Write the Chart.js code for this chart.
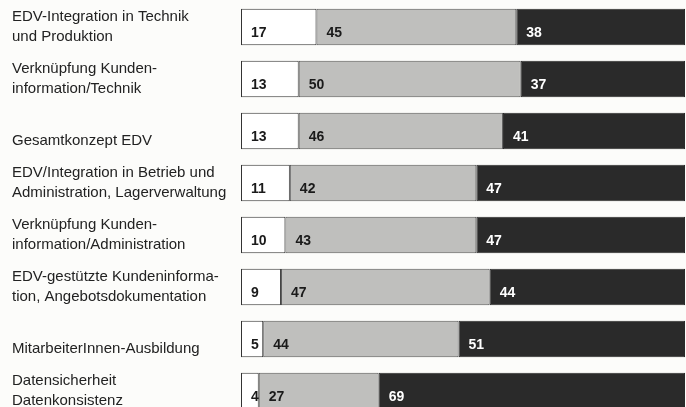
<!DOCTYPE html>
<html>
<head>
<meta charset="utf-8">
<script src="https://cdn.jsdelivr.net/npm/chart.js@4"></script>
<style>
  html, body { margin: 0; padding: 0; background: #fcfcfa; overflow: hidden; }
  #wrap { width: 686px; height: 418px; }
</style>
</head>
<body>
<div id="wrap"><canvas id="myChart"></canvas></div>
<script>
const labels = [
  ['EDV-Integration in Technik', 'und Produktion'],
  ['Verknüpfung Kunden-', 'information/Technik'],
  ['', 'Gesamtkonzept EDV'],
  ['EDV/Integration in Betrieb und', 'Administration, Lagerverwaltung'],
  ['Verknüpfung Kunden-', 'information/Administration'],
  ['EDV-gestützte Kundeninforma-', 'tion, Angebotsdokumentation'],
  ['', 'MitarbeiterInnen-Ausbildung'],
  ['Datensicherheit', 'Datenkonsistenz']
];
const whiteVals = [17, 13, 13, 11, 10, 9, 5, 4];
const grayVals  = [45, 50, 46, 42, 43, 47, 44, 27];
const blackVals = [38, 37, 41, 47, 47, 44, 51, 69];

// value numbers at the left of each segment
const valueLabels = {
  id: 'valueLabels',
  afterDatasetsDraw(chart) {
    const c = chart.ctx;
    c.save();
    c.font = 'bold 14px "Liberation Sans", Arial, sans-serif';
    c.textBaseline = 'middle';
    c.textAlign = 'left';
    chart.data.datasets.forEach((ds, i) => {
      const meta = chart.getDatasetMeta(i);
      meta.data.forEach((bar, j) => {
        const left = Math.min(bar.x, bar.base);
        c.fillStyle = ds.numColor;
        c.fillText(ds.data[j], left + 10, bar.y + 6);
      });
    });
    c.restore();
  }
};

new Chart(document.getElementById('myChart'), {
  type: 'bar',
  data: {
    labels: labels,
    datasets: [
      { data: whiteVals, backgroundColor: '#ffffff', borderColor: '#333', borderWidth: 1, borderSkipped: false, numColor: '#1a1a1a' },
      { data: grayVals, backgroundColor: '#bfbfbd', borderColor: '#555', borderWidth: 1, borderSkipped: false, numColor: '#1a1a1a' },
      { data: blackVals, backgroundColor: '#2a2a2a', borderColor: '#2a2a2a', borderWidth: 1, borderSkipped: false, numColor: '#ffffff' }
    ]
  },
  options: {
    indexAxis: 'y',
    responsive: true,
    maintainAspectRatio: false,
    animation: false,
    layout: { padding: { top: 1, bottom: 1, left: 12, right: 1 } },
    datasets: { bar: { barPercentage: 0.7, categoryPercentage: 1 } },
    plugins: {
      legend: { display: false },
      tooltip: { enabled: false }
    },
    scales: {
      x: {
        stacked: true,
        display: false,
        min: 0,
        max: 100
      },
      y: {
        stacked: true,
        grid: { display: false },
        border: { display: false },
        afterFit(axis) {
          axis.width = 229;
          axis.paddingTop = 0;
          axis.paddingBottom = 0;
        },
        ticks: {
          crossAlign: 'far',
          color: '#222',
          font: { family: '"Liberation Sans", Arial, sans-serif', size: 15, lineHeight: 1.3 }
        }
      }
    }
  },
  plugins: [valueLabels]
});
</script>
</body>
</html>
